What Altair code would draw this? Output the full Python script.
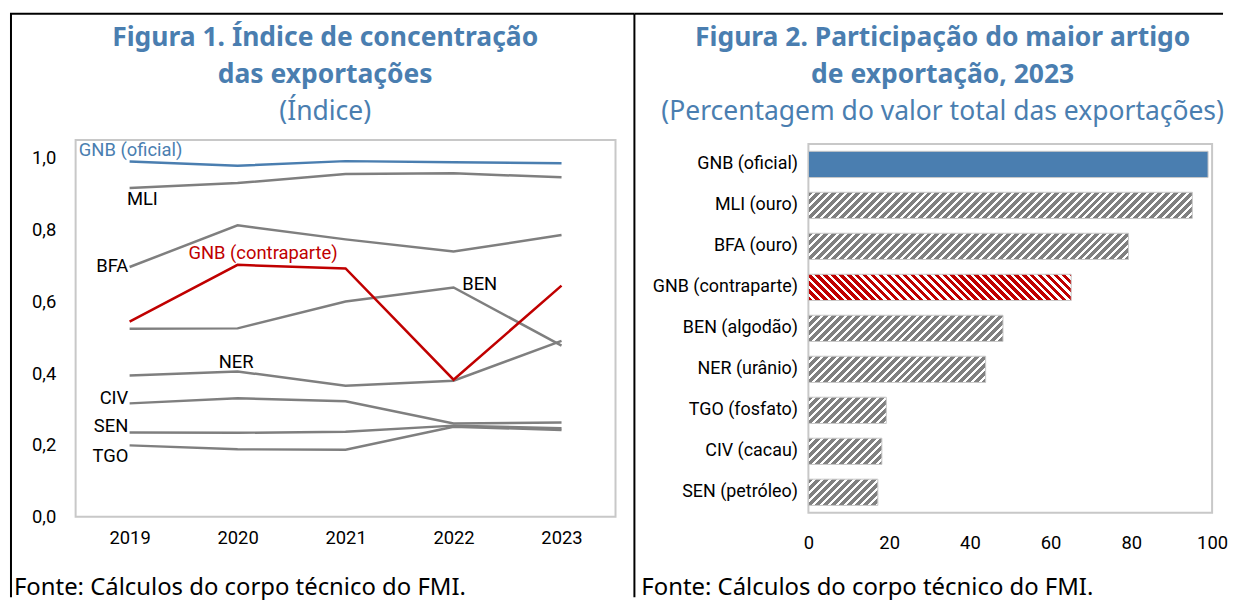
import altair as alt
import pandas as pd

# ---------------- data ----------------
years = [2019, 2020, 2021, 2022, 2023]
gnb_oficial = [0.990, 0.978, 0.991, 0.988, 0.985]
mli = [0.916, 0.930, 0.955, 0.957, 0.946]
bfa = [0.696, 0.812, 0.773, 0.739, 0.785]
gnb_contraparte = [0.544, 0.702, 0.692, 0.382, 0.644]
ben = [0.524, 0.525, 0.600, 0.639, 0.477]
ner = [0.394, 0.405, 0.365, 0.379, 0.490]
civ = [0.316, 0.330, 0.322, 0.260, 0.263]
sen = [0.235, 0.234, 0.237, 0.254, 0.247]
tgo = [0.199, 0.188, 0.187, 0.251, 0.242]
y_ticks = [0.0, 0.2, 0.4, 0.6, 0.8, 1.0]

bar_categories = ["GNB (oficial)", "MLI (ouro)", "BFA (ouro)", "GNB (contraparte)",
                  "BEN (algodão)", "NER (urânio)", "TGO (fosfato)", "CIV (cacau)", "SEN (petróleo)"]
bar_values = [99.0, 95.1, 79.3, 65.1, 48.2, 43.9, 19.3, 18.2, 17.2]
x_ticks = [0, 20, 40, 60, 80, 100]

title1 = ["Figura 1. Índice de concentração", "das exportações"]
subtitle1 = "(Índice)"
title2 = ["Figura 2. Participação do maior artigo", "de exportação, 2023"]
subtitle2 = "(Percentagem do valor total das exportações)"
source = "Fonte: Cálculos do corpo técnico do FMI."

# ---------------- styles ----------------
BLUE = "#4a7eb0"
RED = "#c00000"
GRAY = "#7f7f7f"
LABF = "Roboto, sans-serif"
SANS = "Noto Sans, Open Sans, sans-serif"
W1, H1 = 543, 379
W2, H2 = 406, 371
TS = 26.6

series = {
    "MLI": (mli, GRAY), "BFA": (bfa, GRAY), "BEN": (ben, GRAY), "NER": (ner, GRAY),
    "CIV": (civ, GRAY), "SEN": (sen, GRAY), "TGO": (tgo, GRAY),
    "GNB (contraparte)": (gnb_contraparte, RED), "GNB (oficial)": (gnb_oficial, BLUE),
}

rows = []
for name, (vals, col) in series.items():
    for yr, v in zip(years, vals):
        rows.append({"series": name, "year": yr, "value": v, "col": col})
lines_df = pd.DataFrame(rows)

# annotation labels (anchored in data units)
labels = pd.DataFrame([
    {"label": "GNB (oficial)", "year": 2018.530, "value": 1.022, "col": BLUE, "al": "left"},
    {"label": "MLI", "year": 2018.975, "value": 0.886, "col": "#000000", "al": "left"},
    {"label": "GNB (contraparte)", "year": 2019.545, "value": 0.734, "col": RED, "al": "left"},
    {"label": "BEN", "year": 2022.08, "value": 0.648, "col": "#000000", "al": "left"},
    {"label": "NER", "year": 2019.987, "value": 0.432, "col": "#000000", "al": "center"},
    {"label": "BFA", "year": 2018.988, "value": 0.699, "col": "#000000", "al": "right"},
    {"label": "CIV", "year": 2018.988, "value": 0.332, "col": "#000000", "al": "right"},
    {"label": "SEN", "year": 2018.988, "value": 0.253, "col": "#000000", "al": "right"},
    {"label": "TGO", "year": 2018.988, "value": 0.168, "col": "#000000", "al": "right"},
])

xs1 = alt.Scale(domain=[2018.5, 2023.5], nice=False, zero=False)
ys1 = alt.Scale(domain=[0, 1.05], nice=False, zero=True)
xax1 = alt.Axis(values=years, format="d", title=None, domain=False, ticks=False, grid=False,
                labelFlush=False, labelPadding=12, labelFontSize=18.5, labelColor="#000000", labelFont=LABF)
yax1 = alt.Axis(values=y_ticks, labelExpr="replace(format(datum.value, '.1f'), '.', ',')",
                title=None, domain=False, ticks=False, grid=False, labelPadding=20, labelFlush=False,
                labelFontSize=18.5, labelColor="#000000", labelFont=LABF)

one = pd.DataFrame({"k": [0]})


def deco_rule(x, y, x2=None, y2=None):
    enc = {"x": alt.value(x), "y": alt.value(y)}
    if x2 is not None:
        enc["x2"] = alt.value(x2)
    if y2 is not None:
        enc["y2"] = alt.value(y2)
    return alt.Chart(one).mark_rule(color="#000000", strokeWidth=2).encode(**enc)


def deco_text(txt, x, y, size, weight="normal", color=BLUE, align="center", font=SANS):
    return alt.Chart(one).mark_text(text=txt, align=align, baseline="middle", fontSize=size,
                                    fontWeight=weight, color=color, font=font
                                    ).encode(x=alt.value(x), y=alt.value(y))


line_layers = []
for group in (["MLI", "BFA", "BEN", "NER", "CIV", "SEN", "TGO"], ["GNB (contraparte)"], ["GNB (oficial)"]):
    d = lines_df[lines_df["series"].isin(group)]
    line_layers.append(
        alt.Chart(d).mark_line(strokeWidth=2.5).encode(
            x=alt.X("year:Q", scale=xs1, axis=xax1),
            y=alt.Y("value:Q", scale=ys1, axis=yax1),
            detail="series:N",
            color=alt.Color("col:N", scale=None),
        )
    )

label_layers = []
for al in ("left", "right", "center"):
    d = labels[labels["al"] == al]
    label_layers.append(
        alt.Chart(d).mark_text(align=al, baseline="middle", fontSize=18.5, font=LABF).encode(
            x=alt.X("year:Q", scale=xs1, axis=xax1),
            y=alt.Y("value:Q", scale=ys1, axis=yax1),
            text="label:N",
            color=alt.Color("col:N", scale=None),
        )
    )

left = alt.layer(
    *line_layers, *label_layers,
    deco_text(title1[0], 251, -102, TS, "bold"),
    deco_text(title1[1], 251, -65, TS, "bold"),
    deco_text(subtitle1, 251, -28, TS),
    deco_text(source, -62, 451, 24, color="#000000", align="left"),
    deco_rule(-65, -127, y2=460),
    deco_rule(-66, -127, x2=562),
    deco_rule(562, -127, y2=460),
).properties(width=W1, height=H1)

# ---------------- right chart ----------------
xs2 = alt.Scale(domain=[0, 100], nice=False)
ys2 = alt.Scale(domain=bar_categories, paddingInner=0.36, paddingOuter=0.18)
xax2 = alt.Axis(values=x_ticks, title=None, domain=False, ticks=False, grid=False, labelPadding=21,
                labelFlush=False, labelFontSize=18.5, labelColor="#000000", labelFont=LABF)
yax2 = alt.Axis(title=None, domain=False, ticks=False, grid=False, labelPadding=11,
                labelFontSize=18, labelColor="#000000", labelFont=LABF)

step = H2 / (len(bar_categories) - 0.36 + 2 * 0.18)
band_h = step * (1 - 0.36)


def hatch(value, color, backward=False, period=8.0, duty=5.0):
    w = value / 100.0 * W2
    h = band_h
    span = w + h
    a = w * (w + h) / (w * w + h * h)
    stops = []
    k = 0.0
    while k < span:
        o0 = k / span
        o1 = min((k + duty) / span, 1.0)
        o2 = min((k + period) / span, 1.0)
        stops += [{"offset": o0, "color": color}, {"offset": o1, "color": color},
                  {"offset": o1, "color": "#ffffff"}, {"offset": o2, "color": "#ffffff"}]
        k += period
    if backward:
        return {"gradient": "linear", "x1": 0, "y1": 1, "x2": a, "y2": 1 - a * h / w, "stops": stops}
    return {"gradient": "linear", "x1": 0, "y1": 0, "x2": a, "y2": a * h / w, "stops": stops}


bar_layers = []
for cat, val in zip(bar_categories, bar_values):
    d = pd.DataFrame({"cat": [cat], "value": [val]})
    if cat == "GNB (oficial)":
        fill = BLUE
    elif cat == "GNB (contraparte)":
        fill = hatch(val, RED, backward=True, duty=4.5)
    else:
        fill = hatch(val, "#808080")
    bar_layers.append(
        alt.Chart(d).mark_bar(fill=fill, stroke="#c8c8c8", strokeWidth=1).encode(
            x=alt.X("value:Q", scale=xs2, axis=xax2),
            y=alt.Y("cat:N", scale=ys2, axis=yax2, sort=bar_categories),
        )
    )

right = alt.layer(
    *bar_layers,
    deco_text(title2[0], 135, -106, TS, "bold"),
    deco_text(title2[1], 135, -69, TS, "bold"),
    deco_text(subtitle2, 135, -32, TS),
    deco_text(source, -168, 447, 24, color="#000000", align="left"),
    deco_rule(-175, -131, x2=417),
).properties(width=W2, height=H2)

chart = alt.hconcat(left, right, spacing=194, bounds="flush", center=True).properties(
    padding={"left": 0, "top": 2, "right": 0, "bottom": 0}
).configure_view(stroke="#c8c8c8", strokeWidth=2)

chart.save("out.html", embed_options={"renderer": "svg", "actions": False})
